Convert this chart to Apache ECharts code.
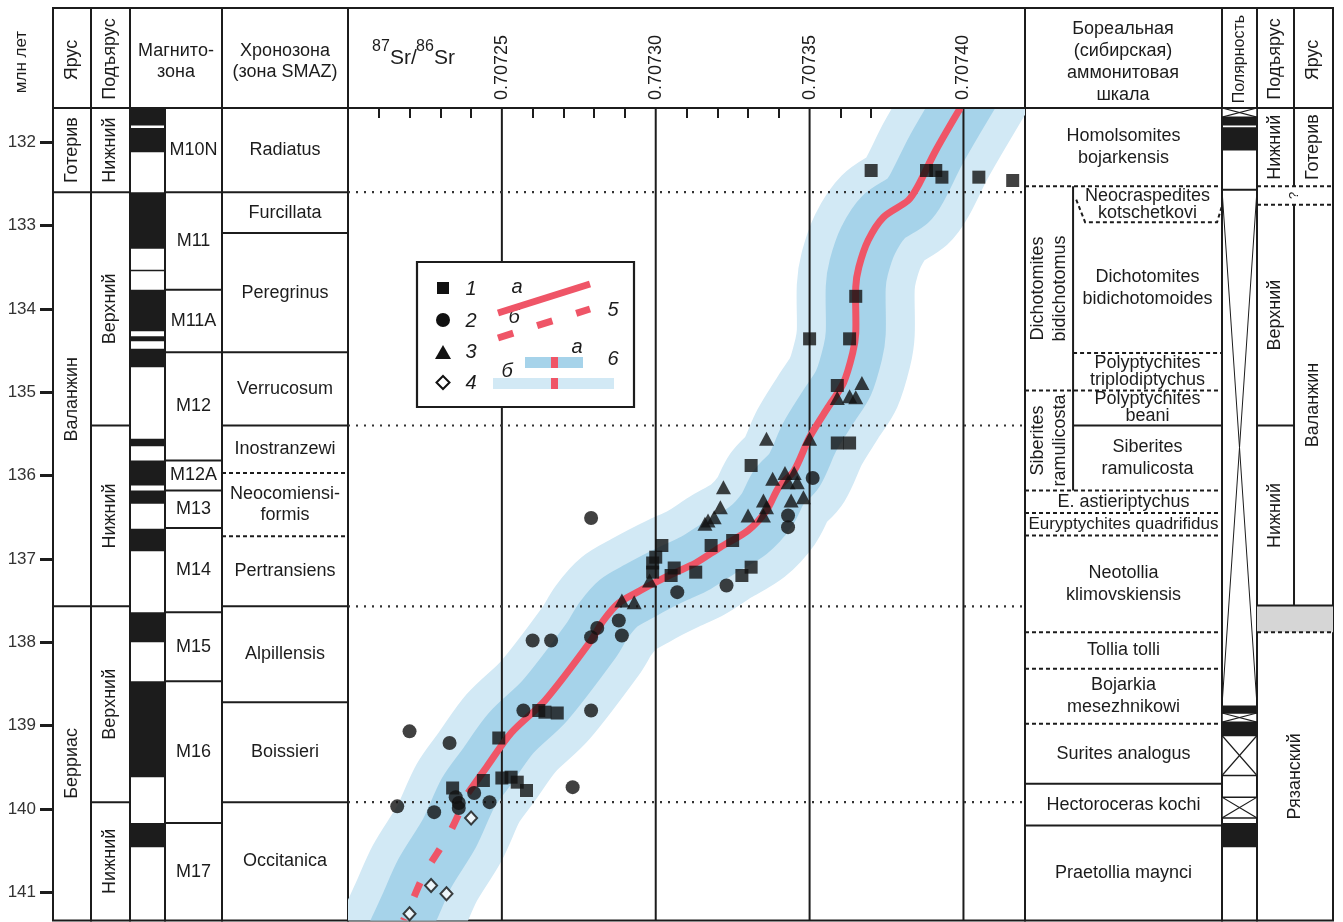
<!DOCTYPE html>
<html lang="ru">
<head>
<meta charset="utf-8">
<title>87Sr/86Sr — берриас–готерив</title>
<script src="https://cdn.jsdelivr.net/npm/echarts@6.0.0/dist/echarts.min.js"></script>
<style>
html, body { margin: 0; padding: 0; background: #fff; }
#chart { width: 1343px; height: 922px; }
</style>
</head>
<body>
<div id="chart"></div>
<script>
// ---------------- data ----------------
const AGE_MIN = 131.59;
const AGE_MAX = 141.34;
const ageTicks = [132, 133, 134, 135, 136, 137, 138, 139, 140, 141];

const SR_MIN = 0.7072;
const SR_MAX = 0.70742;
const srTicks = [0.70725, 0.7073, 0.70735, 0.7074];
const srMinorTicks = [0.70721, 0.70722, 0.70723, 0.70724, 0.70726, 0.70727, 0.70728, 0.70729,
  0.70731, 0.70732, 0.70733, 0.70734, 0.70736, 0.70737, 0.70738, 0.70739, 0.70741];

// stage / substage boundaries traced across the Sr panel
const stageBoundaries = [132.60, 135.40, 137.57, 139.92];

const stagesLeft = [['Готерив', 131.59, 132.60], ['Валанжин', 132.60, 137.57], ['Берриас', 137.57, AGE_MAX]];
const substagesLeft = [['Нижний', 131.59, 132.60], ['Верхний', 132.60, 135.40], ['Нижний', 135.40, 137.57],
  ['Верхний', 137.57, 139.92], ['Нижний', 139.92, AGE_MAX]];

// normal polarity intervals (black)
const magNormal = [[131.59, 131.80], [131.83, 132.12], [132.60, 133.28], [133.77, 134.27], [134.33, 134.39],
  [134.48, 134.70], [135.56, 135.65], [135.82, 136.12], [136.18, 136.34], [136.64, 136.91], [137.64, 138.00],
  [138.47, 139.62], [140.17, 140.46]];
const magLines = [133.54];
const magZones = [['M10N', 131.59, 132.60], ['M11', 132.60, 133.77], ['M11A', 133.77, 134.52], ['M12', 134.52, 135.82],
  ['M12A', 135.82, 136.18], ['M13', 136.18, 136.63], ['M14', 136.63, 137.64], ['M15', 137.64, 138.47],
  ['M16', 138.47, 140.17], ['M17', 140.17, AGE_MAX]];

const chronozones = [['Radiatus', 131.59, 132.60], ['Furcillata', 132.60, 133.09], ['Peregrinus', 133.09, 134.52],
  ['Verrucosum', 134.52, 135.40], ['Inostranzewi', 135.40, 135.97], ['Neocomiensi-\nformis', 135.97, 136.73],
  ['Pertransiens', 136.73, 137.57], ['Alpillensis', 137.57, 138.72], ['Boissieri', 138.72, 139.92],
  ['Occitanica', 139.92, AGE_MAX]];
const chronDashed = [135.97, 136.73];

// boreal ammonite zones: name, top, base, lane
const borealZones = [
  ['Homolsomites\nbojarkensis', 131.59, 132.53, 'full'],
  ['Dichotomites\nbidichotomus', 132.53, 134.98, 'left'],
  ['Siberites\nramulicosta', 134.98, 136.18, 'left'],
  ['Neocraspedites\nkotschetkovi', 132.53, 132.96, 'right'],
  ['Dichotomites\nbidichotomoides', 132.96, 134.53, 'right'],
  ['Polyptychites\ntriplodiptychus', 134.53, 134.98, 'right'],
  ['Polyptychites\nbeani', 134.98, 135.40, 'right'],
  ['Siberites\nramulicosta', 135.40, 136.18, 'right'],
  ['E. astieriptychus', 136.18, 136.45, 'full'],
  ['Euryptychites quadrifidus', 136.45, 136.72, 'full'],
  ['Neotollia\nklimovskiensis', 136.72, 137.88, 'full'],
  ['Tollia tolli', 137.88, 138.32, 'full'],
  ['Bojarkia\nmesezhnikowi', 138.32, 138.98, 'full'],
  ['Surites analogus', 138.98, 139.70, 'full'],
  ['Hectoroceras kochi', 139.70, 140.20, 'full'],
  ['Praetollia maynci', 140.20, AGE_MAX, 'full']
];
const borealDashed = [[132.53, 'full'], [134.53, 'right'], [134.98, 'full'], [136.18, 'full'], [136.45, 'full'],
  [136.72, 'full'], [137.88, 'full'], [138.32, 'full'], [138.98, 'full']];
const borealSolid = [[135.40, 'right'], [139.70, 'full'], [140.20, 'full']];
const borealSubDivider = [132.53, 136.18];
const neocraspeditesBase = 132.96;

// right-hand polarity column
const polRNormal = [[131.70, 131.80], [131.82, 132.10], [138.76, 138.85], [138.96, 139.12], [140.17, 140.46]];
const polRUnknown = [[131.59, 131.70], [138.85, 138.96], [139.12, 139.60], [139.86, 140.11]];
const polRGap = [[132.57, 138.76]];

// right-hand substages / stages
const rightUnits = [['Нижний', 131.59, 132.53, 'sub'], ['Готерив', 131.59, 132.53, 'stage'],
  ['?', 132.53, 132.75, 'mid'], ['Верхний', 132.75, 135.40, 'sub'], ['Нижний', 135.40, 137.56, 'sub'],
  ['Валанжин', 132.75, 137.56, 'stage'], ['Рязанский', 137.88, AGE_MAX, 'both']];
const rightGrey = [[137.56, 137.88]];
const rightDashed = [132.53, 132.75, 137.88];
const rightSolid = [[135.40, 'sub'], [137.56, 'both']];
const rightDivider = [[131.59, 132.53], [132.75, 137.56]];

// Sr curve: [87Sr/86Sr, age Ma]
const srCurveSolid = [
  [0.707399, 131.59], [0.707391, 132.10], [0.707385, 132.54], [0.707382, 132.70], [0.707374, 132.90],
  [0.707369, 133.18], [0.707366, 133.50], [0.707365, 133.74], [0.707365, 134.29], [0.707364, 134.53],
  [0.707361, 134.89], [0.707356, 135.18], [0.707350, 135.54], [0.707345, 135.94], [0.707340, 136.14],
  [0.707336, 136.42], [0.707330, 136.66], [0.707321, 136.86], [0.707313, 137.05], [0.707306, 137.17],
  [0.707300, 137.28], [0.707295, 137.38], [0.707288, 137.53], [0.707283, 137.74], [0.707279, 137.98],
  [0.707264, 138.70], [0.707253, 139.09], [0.707245, 139.50], [0.707239, 139.81]];
const srCurveDashed = [[0.707239, 139.81], [0.707233, 140.29], [0.707225, 140.77], [0.707220, 141.18], [0.707218, 141.34]];

// samples: [87Sr/86Sr, age Ma]
const samples1 = [
  [0.707370, 132.34], [0.707388, 132.34], [0.707391, 132.34], [0.707393, 132.42], [0.707405, 132.42], [0.707416, 132.46],
  [0.707365, 133.85], [0.707350, 134.36], [0.707363, 134.36], [0.707359, 134.92],
  [0.707359, 135.61], [0.707363, 135.61], [0.707331, 135.88],
  [0.707325, 136.78], [0.707318, 136.84], [0.707302, 136.84], [0.707300, 136.98], [0.707299, 137.05],
  [0.707299, 137.16], [0.707306, 137.11], [0.707305, 137.20], [0.707313, 137.16], [0.707331, 137.10], [0.707328, 137.20],
  [0.707262, 138.82], [0.707264, 138.84], [0.707268, 138.85], [0.707249, 139.15],
  [0.707244, 139.66], [0.707250, 139.63], [0.707253, 139.62], [0.707255, 139.68], [0.707258, 139.78], [0.707234, 139.75]];
const samples2 = [
  [0.707351, 136.03], [0.707343, 136.48], [0.707343, 136.62], [0.707279, 136.51], [0.707323, 137.32], [0.707307, 137.40],
  [0.707288, 137.74], [0.707289, 137.92], [0.707281, 137.83], [0.707279, 137.94], [0.707260, 137.98], [0.707266, 137.98],
  [0.707279, 138.82], [0.707257, 138.82], [0.707220, 139.07], [0.707233, 139.21],
  [0.707235, 139.86], [0.707236, 139.93], [0.707236, 139.99], [0.707241, 139.81], [0.707246, 139.92],
  [0.707216, 139.97], [0.707228, 140.04], [0.707273, 139.74]];
const samples3 = [
  [0.707367, 134.89], [0.707359, 135.07], [0.707363, 135.05], [0.707365, 135.06],
  [0.707336, 135.56], [0.707350, 135.56],
  [0.707322, 136.14], [0.707338, 136.04], [0.707342, 135.97], [0.707345, 135.97], [0.707343, 136.08], [0.707346, 136.08],
  [0.707344, 136.30], [0.707348, 136.26], [0.707335, 136.30], [0.707336, 136.38], [0.707330, 136.48], [0.707335, 136.48],
  [0.707321, 136.38], [0.707319, 136.50], [0.707317, 136.54], [0.707316, 136.58],
  [0.707298, 137.26], [0.707289, 137.50], [0.707293, 137.52]];
const samples4 = [[0.707240, 140.11], [0.707227, 140.92], [0.707232, 141.02], [0.707220, 141.26]];

// ---------------- drawing ----------------
const INK = '#1c1c1c';
const FONT = '"Liberation Sans", Arial, sans-serif';
const RED = '#ef5567';
const BAND_OUT = '#d2e9f5';
const BAND_IN = '#a6d3ea';
const TOP = 108;
const PANEL_H = 812.5;
const TXT = 18;

const grid = [], xAxis = [], yAxis = [], series = [];

function column(left, right, yExtra) {
  const i = grid.length;
  grid.push({ left, top: TOP, width: right - left, height: PANEL_H, show: true, borderColor: INK,
    borderWidth: 2, backgroundColor: 'transparent', containLabel: false, outerBoundsMode: 'none' });
  xAxis.push({ gridIndex: i, type: 'value', min: 0, max: 1, show: false });
  yAxis.push(Object.assign({ gridIndex: i, type: 'value', min: AGE_MIN, max: AGE_MAX, inverse: true, show: false }, yExtra || {}));
  return i;
}

function addCells(gi, list, z) {
  series.push({
    type: 'custom', xAxisIndex: gi, yAxisIndex: gi, coordinateSystem: 'cartesian2d', clip: true, silent: true, z: z || 3,
    data: list.map(c => [c.x0, c.t, c.x1, c.b]),
    renderItem(params, api) {
      const c = list[params.dataIndex];
      const p0 = api.coord([api.value(0), api.value(1)]);
      const p1 = api.coord([api.value(2), api.value(3)]);
      const x = p0[0], y = p0[1], w = p1[0] - p0[0], h = p1[1] - p0[1];
      const kids = [];
      if (c.fill) kids.push({ type: 'rect', shape: { x, y, width: w, height: h }, style: { fill: c.fill } });
      if (c.cross) kids.push({ type: 'rect', shape: { x, y, width: w, height: h }, style: { fill: '#fff', stroke: INK, lineWidth: 1.5 } });
      if (c.cross || c.bigX) {
        const lw = c.bigX ? 1 : 1.2;
        kids.push({ type: 'line', shape: { x1: x, y1: y, x2: x + w, y2: y + h }, style: { stroke: INK, lineWidth: lw } });
        kids.push({ type: 'line', shape: { x1: x + w, y1: y, x2: x, y2: y + h }, style: { stroke: INK, lineWidth: lw } });
      }
      if (c.text) {
        kids.push({ type: 'text', x: x + w / 2, y: y + h / 2, rotation: c.rot ? Math.PI / 2 : 0,
          style: { text: c.text, fontSize: c.size || TXT, fontFamily: FONT, fill: INK, align: 'center',
            verticalAlign: 'middle', lineHeight: c.lh || 22 } });
      }
      return { type: 'group', children: kids };
    }
  });
}

function addPaths(gi, list, z) {
  series.push({
    type: 'custom', xAxisIndex: gi, yAxisIndex: gi, coordinateSystem: 'cartesian2d', clip: true, silent: true, z: z || 4,
    data: list.map(l => l.p[0]),
    renderItem(params, api) {
      const l = list[params.dataIndex];
      return { type: 'polyline', shape: { points: l.p.map(q => api.coord(q)) },
        style: { stroke: l.color || INK, lineWidth: l.w || 2, lineDash: l.dash || null, fill: null } };
    }
  });
}

function addCurve(gi, pts, style, z) {
  series.push({
    type: 'custom', xAxisIndex: gi, yAxisIndex: gi, coordinateSystem: 'cartesian2d', clip: true, silent: true, z,
    data: [pts[0]],
    renderItem(params, api) {
      return { type: 'polyline', shape: { points: pts.map(p => api.coord(p)), smooth: 0.3 },
        style: Object.assign({ fill: null, lineJoin: 'round' }, style) };
    }
  });
}

const DASH = [4, 3];
const hRule = (x0, x1, a, dashed, w) => ({ p: [[x0, a], [x1, a]], dash: dashed ? DASH : null, w: w || 2 });
const vRule = (x, t, b) => ({ p: [[x, t], [x, b]], w: 2 });

// --- left stage column (carries the age scale) ---
const G_STAGE = column(53, 91, {
  show: true, position: 'left', axisLine: { show: false }, splitLine: { show: false },
  axisTick: { show: true, customValues: ageTicks, length: 13, lineStyle: { color: INK, width: 3 } },
  axisLabel: { show: true, customValues: ageTicks, margin: 17, fontSize: 17, fontFamily: FONT, color: '#333' }
});
addCells(G_STAGE, stagesLeft.map(s => ({ text: s[0], x0: 0, x1: 1, t: s[1], b: s[2], rot: true })));
addPaths(G_STAGE, stagesLeft.slice(0, -1).map(s => hRule(0, 1, s[2])));

const G_SUB = column(91, 130);
addCells(G_SUB, substagesLeft.map(s => ({ text: s[0], x0: 0, x1: 1, t: s[1], b: s[2], rot: true })));
addPaths(G_SUB, substagesLeft.slice(0, -1).map(s => hRule(0, 1, s[2])));

const G_MAG = column(130, 165);
addCells(G_MAG, magNormal.map(m => ({ x0: 0, x1: 1, t: m[0], b: m[1], fill: INK })));
addPaths(G_MAG, magLines.map(a => hRule(0, 1, a, false, 1.5)));

const G_MAGN = column(165, 222);
addCells(G_MAGN, magZones.map(m => ({ text: m[0], x0: 0, x1: 1, t: m[1], b: m[2] })));
addPaths(G_MAGN, magZones.slice(0, -1).map(m => hRule(0, 1, m[2])));

const G_CHRON = column(222, 348);
addCells(G_CHRON, chronozones.map(c => ({ text: c[0], x0: 0, x1: 1, t: c[1], b: c[2], lh: 21 })));
addPaths(G_CHRON, chronozones.slice(0, -1).map(c => hRule(0, 1, c[2], chronDashed.includes(c[2]))));

// --- Sr panel ---
const G_MAIN = column(348, 1025);
xAxis[G_MAIN] = {
  gridIndex: G_MAIN, type: 'value', min: SR_MIN, max: SR_MAX, position: 'top',
  axisLine: { show: false }, splitLine: { show: false },
  axisTick: { show: true, inside: true, length: 10, customValues: srMinorTicks, lineStyle: { color: INK, width: 2 } },
  axisLabel: { show: true, customValues: srTicks, rotate: -90, margin: 8, fontSize: 18, fontFamily: FONT, color: INK,
    formatter: v => v.toFixed(5) }
};
const bandCurve = srCurveSolid.concat(srCurveDashed.slice(1));
addCurve(G_MAIN, bandCurve, { stroke: BAND_OUT, lineWidth: 118, lineCap: 'square' }, 1);
addCurve(G_MAIN, bandCurve, { stroke: BAND_IN, lineWidth: 60, lineCap: 'square' }, 2);
addPaths(G_MAIN, srTicks.map(v => vRule(v, AGE_MIN, AGE_MAX)), 3);
addPaths(G_MAIN, stageBoundaries.map(a => ({ p: [[SR_MIN, a], [SR_MAX, a]], w: 2.2, dash: [2, 6], color: '#333' })), 3);
addCurve(G_MAIN, srCurveSolid, { stroke: RED, lineWidth: 7, lineCap: 'butt' }, 4);
addCurve(G_MAIN, srCurveDashed, { stroke: RED, lineWidth: 7, lineCap: 'butt', lineDash: [15, 24], lineDashOffset: 15 }, 4);

const scatterBase = { type: 'scatter', xAxisIndex: G_MAIN, yAxisIndex: G_MAIN, silent: true, z: 6, clip: true };
series.push(Object.assign({}, scatterBase, { name: '1', data: samples1, symbol: 'rect', symbolSize: 13, itemStyle: { color: '#111' } }));
series.push(Object.assign({}, scatterBase, { name: '2', data: samples2, symbol: 'circle', symbolSize: 14, itemStyle: { color: '#111' } }));
series.push(Object.assign({}, scatterBase, { name: '3', data: samples3, symbol: 'triangle', symbolSize: [15, 14], itemStyle: { color: '#111' } }));
series.push(Object.assign({}, scatterBase, { name: '4', data: samples4, symbol: 'diamond', symbolSize: [12, 13],
  itemStyle: { color: '#fff', borderColor: '#111', borderWidth: 2 } }));

// --- boreal ammonite scale ---
const G_BOR = column(1025, 1222);
const LANE = { full: [0, 1], left: [0, 0.244], right: [0.244, 1] };
const tight = ['Neocraspedites\nkotschetkovi', 'Polyptychites\ntriplodiptychus', 'Polyptychites\nbeani'];
addCells(G_BOR, borealZones.map(z => ({
  text: z[0], x0: LANE[z[3]][0], x1: LANE[z[3]][1], t: z[1], b: z[2], rot: z[3] === 'left',
  lh: tight.includes(z[0]) ? 17 : 22, size: z[0] === 'Euryptychites quadrifidus' ? 17 : TXT
})));
addPaths(G_BOR, borealDashed.map(d => hRule(LANE[d[1]][0], LANE[d[1]][1], d[0], true))
  .concat(borealSolid.map(d => hRule(LANE[d[1]][0], LANE[d[1]][1], d[0], false)))
  .concat([vRule(0.244, borealSubDivider[0], borealSubDivider[1]),
    { p: [[0.26, 132.69], [0.305, neocraspeditesBase], [0.975, neocraspeditesBase], [0.998, 132.78]], dash: DASH, w: 2 }]));

// --- right polarity ---
const G_POLR = column(1222, 1257);
addCells(G_POLR, polRNormal.map(m => ({ x0: 0, x1: 1, t: m[0], b: m[1], fill: INK }))
  .concat(polRUnknown.map(m => ({ x0: 0, x1: 1, t: m[0], b: m[1], cross: true })))
  .concat(polRGap.map(m => ({ x0: 0, x1: 1, t: m[0], b: m[1], bigX: true }))));
addPaths(G_POLR, polRGap.map(m => hRule(0, 1, m[0])));

// --- right substages and stages ---
const G_R = column(1257, 1333);
const RLANE = { sub: [0, 0.487], stage: [0.487, 1], both: [0, 1], mid: [0.36, 0.62] };
addCells(G_R, rightGrey.map(g => ({ x0: 0, x1: 1, t: g[0], b: g[1], fill: '#d6d6d6' }))
  .concat(rightUnits.map(u => ({ text: u[0], x0: RLANE[u[3]][0], x1: RLANE[u[3]][1], t: u[1], b: u[2], rot: true,
    size: u[0] === '?' ? 13 : TXT }))));
addPaths(G_R, rightDashed.map(a => hRule(0, 1, a, true))
  .concat(rightSolid.map(s => hRule(RLANE[s[1]][0], RLANE[s[1]][1], s[0], false)))
  .concat(rightDivider.map(d => vRule(0.487, d[0], d[1]))));

// ---------------- header and legend ----------------
const headerEdges = [53, 91, 130, 222, 348, 1025, 1222, 1257, 1294, 1333];
const graphics = [];
graphics.push({ type: 'rect', shape: { x: 53, y: 8, width: 1280, height: 100 }, style: { fill: null, stroke: INK, lineWidth: 2 }, z: 50 });
headerEdges.slice(1, -1).forEach(x => graphics.push({ type: 'line', shape: { x1: x, y1: 8, x2: x, y2: 108 }, style: { stroke: INK, lineWidth: 2 }, z: 51 }));

function htext(text, x, y, o) {
  o = o || {};
  return { type: 'text', x, y, rotation: o.rot ? Math.PI / 2 : 0, z: 52,
    style: { text, fontSize: o.size || TXT, fontFamily: FONT, fontStyle: o.italic ? 'italic' : 'normal', fill: INK,
      align: o.align || 'center', verticalAlign: 'middle', lineHeight: o.lh || 21 } };
}
graphics.push(htext('млн лет', 21, 62, { rot: true, size: 17 }));
graphics.push(htext('Ярус', 72, 60, { rot: true }));
graphics.push(htext('Подъярус', 110.5, 59, { rot: true }));
graphics.push(htext('Магнито-\nзона', 176, 62));
graphics.push(htext('Хронозона\n(зона SMAZ)', 285, 62));
graphics.push(htext('87', 372, 47, { size: 16, align: 'left' }));
graphics.push(htext('Sr/', 390, 58, { size: 21, align: 'left' }));
graphics.push(htext('86', 416, 47, { size: 16, align: 'left' }));
graphics.push(htext('Sr', 434, 58, { size: 21, align: 'left' }));
graphics.push(htext('Бореальная\n(сибирская)\nаммонитовая\nшкала', 1123, 62, { lh: 22 }));
graphics.push(htext('Полярность', 1240, 59, { rot: true, size: 16 }));
graphics.push(htext('Подъярус', 1275.5, 59, { rot: true }));
graphics.push(htext('Ярус', 1313.5, 60, { rot: true }));

// legend
const LZ = 60;
graphics.push({ type: 'rect', shape: { x: 417, y: 262, width: 217, height: 145 }, style: { fill: '#fff', stroke: INK, lineWidth: 2.2 }, z: LZ });
graphics.push({ type: 'rect', shape: { x: 437, y: 282, width: 12, height: 12 }, style: { fill: '#111' }, z: LZ + 1 });
graphics.push({ type: 'circle', shape: { cx: 443, cy: 320, r: 7 }, style: { fill: '#111' }, z: LZ + 1 });
graphics.push({ type: 'polygon', shape: { points: [[443, 345], [451, 359], [435, 359]] }, style: { fill: '#111' }, z: LZ + 1 });
graphics.push({ type: 'polygon', shape: { points: [[443, 376], [449.5, 382.5], [443, 389], [436.5, 382.5]] }, style: { fill: '#fff', stroke: '#111', lineWidth: 2 }, z: LZ + 1 });
[['1', 289], ['2', 321], ['3', 352], ['4', 383]].forEach(n => {
  const t = htext(n[0], 471, n[1], { italic: true, size: 20 }); t.z = LZ + 1; graphics.push(t);
});
[['а', 517, 287], ['б', 514, 317], ['5', 613, 310], ['а', 577, 347], ['6', 613, 359], ['б', 507, 371]].forEach(n => {
  const t = htext(n[0], n[1], n[2], { italic: true, size: 20 }); t.z = LZ + 1; graphics.push(t);
});
graphics.push({ type: 'line', shape: { x1: 498, y1: 313, x2: 590, y2: 284 }, style: { stroke: RED, lineWidth: 7 }, z: LZ + 1 });
graphics.push({ type: 'line', shape: { x1: 498, y1: 338, x2: 590, y2: 309 }, style: { stroke: RED, lineWidth: 7, lineDash: [16, 25] }, z: LZ + 1 });
graphics.push({ type: 'rect', shape: { x: 525, y: 357, width: 58, height: 11 }, style: { fill: BAND_IN }, z: LZ + 1 });
graphics.push({ type: 'rect', shape: { x: 551, y: 357, width: 7, height: 11 }, style: { fill: RED }, z: LZ + 2 });
graphics.push({ type: 'rect', shape: { x: 493, y: 378, width: 121, height: 11 }, style: { fill: BAND_OUT }, z: LZ + 1 });
graphics.push({ type: 'rect', shape: { x: 551, y: 378, width: 7, height: 11 }, style: { fill: RED }, z: LZ + 2 });

const chart = echarts.init(document.getElementById('chart'), null, { renderer: 'canvas' });
chart.setOption({
  backgroundColor: '#fff',
  animation: false,
  textStyle: { fontFamily: FONT },
  grid, xAxis, yAxis, series,
  graphic: { elements: graphics }
});
</script>
</body>
</html>
